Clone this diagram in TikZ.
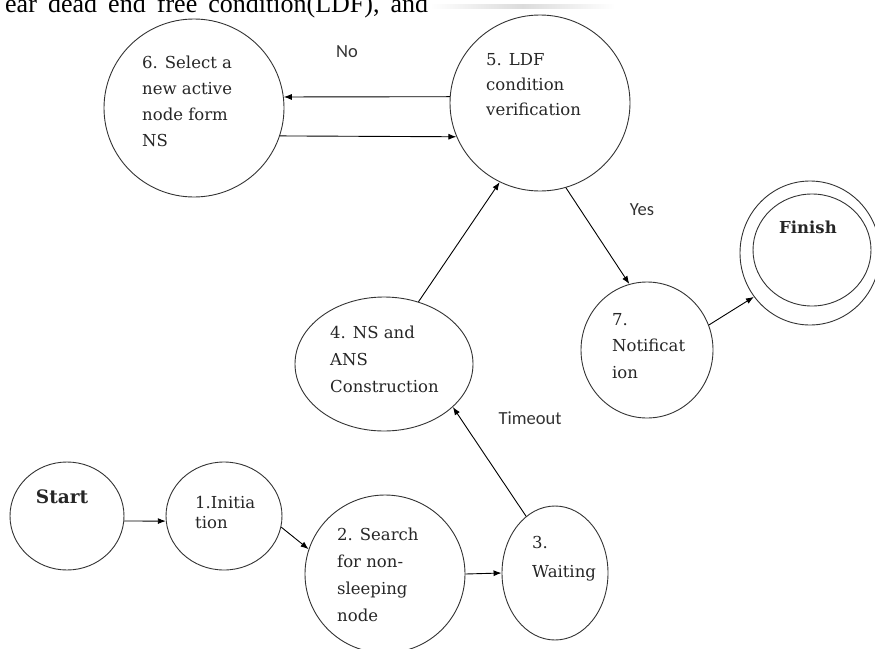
\documentclass[tikz,border=0pt]{standalone}
\usepackage{fontspec}
\setmainfont{DejaVu Serif}
\newfontfamily\labelfont{Carlito}
\newfontfamily\paperfont{Liberation Serif}
\usetikzlibrary{shapes.geometric,arrows.meta}

\begin{document}
\begin{tikzpicture}[x=1pt, y=-1pt,
    state/.style={draw=black!80, line width=0.9pt, ellipse, inner sep=0pt},
    txt/.style={anchor=north west, inner sep=0pt, align=left, text=black!85,
      font=\fontsize{16.5}{#1}\selectfont},
    edgelabel/.style={text=black!80, font=\labelfont\fontsize{18.5}{20}\selectfont},
    >={Latex[length=8pt,width=6pt]}]
  \useasboundingbox (0,0) rectangle (875,648);
  \clip (0,0) rectangle (875,648);

  \fill [left color=white, right color=white, middle color=black!14] (430,4) rectangle (615,8);
  \node [anchor=base west, inner sep=0pt, font=\paperfont\fontsize{26}{28}\selectfont] (paper) at (5,12)
    {\makebox[423pt][s]{ear dead end free condition(LDF), and}};

  \node [state, minimum width=180pt, minimum height=178pt] (n6) at (194,108) {};
  \node [state, minimum width=180pt, minimum height=176pt] (n5) at (540,103) {};
  \node [state, minimum width=178pt, minimum height=134pt] (n4) at (384,364) {};
  \node [state, minimum width=132pt, minimum height=136pt] (n7) at (647,350) {};
  \node [state, minimum width=140pt, minimum height=144pt] (nf) at (810,253) {};
  \node [state, minimum width=118pt, minimum height=112pt] (nfi) at (812,250) {};
  \node [state, minimum width=114pt, minimum height=108pt] (n0) at (67,516) {};
  \node [state, minimum width=116pt, minimum height=108pt] (n1) at (224,516) {};
  \node [state, minimum width=160pt, minimum height=158pt] (n2) at (385,574) {};
  \node [state, minimum width=106pt, minimum height=134pt] (n3) at (555,573) {};

  \node [txt=26] (t6) at (142,56) {6. Select a\\new active\\node form\\NS};
  \node [txt=25] (t5) at (486,53) {5. LDF\\condition\\verification};
  \node [txt=27] (t4) at (330,326) {4. NS and\\ANS\\Construction};
  \node [txt=26.5] (t7) at (612,313) {7.\\Notificat\\ion};
  \node [txt=29] (t3) at (532,536) {3.\\Waiting};
  \node [txt=27] (t2) at (337,528) {2. Search\\for non-\\sleeping\\node};
  \node [txt=20] (t1) at (195,496) {1.Initia\\tion};
  \node [text=black!85, font=\bfseries\fontsize{18.5}{20}\selectfont] (tstart) at (62,497) {Start};
  \node [text=black!85, font=\bfseries\fontsize{16.5}{20}\selectfont] (tfinish) at (808,227) {Finish};

  \node [edgelabel] (no) at (347,52) {No};
  \node [edgelabel] (yes) at (642,210) {Yes};
  \node [edgelabel] (timeout) at (530,418) {Timeout};

  \draw [->, line width=0.9pt] (n5.176) -- (n6.7);
  \draw [->, line width=0.9pt] (n6.-18) -- (n5.202);
  \draw [->, line width=0.9pt] (n5.-73) -- (n7.105);
  \draw [->, line width=0.9pt] (n7.22) -- (nf.218);
  \draw [->, line width=0.9pt] (n4.61) -- (n5.243);
  \draw [->, line width=0.9pt] (n3.117) -- (n4.-32);
  \draw [->, line width=0.9pt] (n0.-5) -- (n1.185);
  \draw [->, line width=0.9pt] (n1.-11) -- (n2.162);
  \draw [->, line width=0.9pt] (n2.0) -- (n3.180);
\end{tikzpicture}
\end{document}
